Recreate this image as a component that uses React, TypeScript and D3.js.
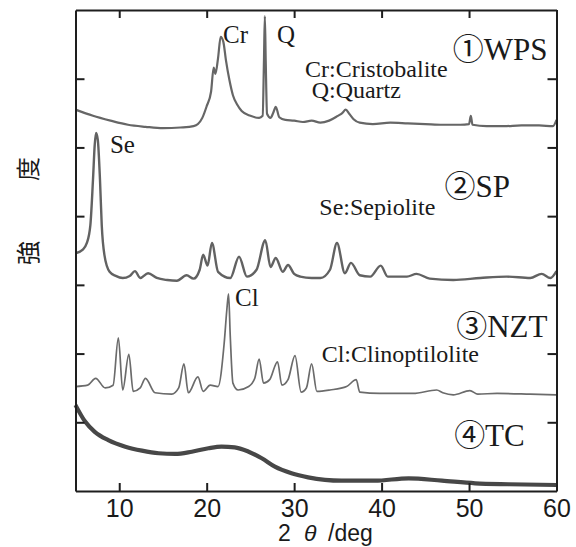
import React, { useEffect, useRef } from 'react';
import * as d3 from 'd3';

// 2θ (deg) vs intensity (a.u., stacked offsets)
const wpsData: [number, number][] = [
  [5, 5.55], [7, 5.46], [9, 5.39], [11, 5.33], [13, 5.3], [15, 5.28], [17, 5.29],
  [18.5, 5.31], [19, 5.34], [19.5, 5.43], [20, 5.6], [20.5, 5.81], [20.8, 6.16],
  [21.0, 6.07], [21.3, 6.3], [21.6, 6.61], [21.9, 6.54], [22.2, 6.27], [22.6, 5.98],
  [23.0, 5.76], [23.5, 5.62], [24, 5.53], [25, 5.46], [26, 5.43], [26.4, 5.46],
  [26.55, 6.27], [26.65, 6.91], [26.75, 6.27], [26.9, 5.49], [27.3, 5.43], [27.6, 5.5],
  [27.9, 5.59], [28.3, 5.44], [29, 5.4], [30, 5.39], [31, 5.37], [32, 5.39], [33, 5.36],
  [34, 5.39], [35, 5.46], [35.5, 5.5], [35.9, 5.55], [36.3, 5.49], [36.8, 5.41],
  [37.5, 5.36], [39, 5.34], [41, 5.36], [43, 5.35], [45, 5.34], [47, 5.33], [49, 5.33],
  [50.0, 5.34], [50.2, 5.46], [50.4, 5.33], [52, 5.31], [54, 5.31], [56, 5.32],
  [58, 5.32], [59.6, 5.31], [60, 5.4]
];

const spData: [number, number][] = [
  [5, 3.46], [5.8, 3.51], [6.3, 3.61], [6.7, 3.87], [7.0, 4.53], [7.2, 5.04], [7.35, 5.21],
  [7.55, 5.11], [7.8, 4.53], [8.0, 3.87], [8.3, 3.44], [8.9, 3.19], [9.6, 3.13],
  [10.4, 3.1], [11.2, 3.13], [11.8, 3.2], [12.4, 3.1], [13.3, 3.17], [14.3, 3.1],
  [15.5, 3.07], [16.6, 3.06], [17.7, 3.14], [18.5, 3.09], [19.2, 3.22], [19.6, 3.44],
  [20.1, 3.28], [20.6, 3.61], [21.3, 3.19], [22.7, 3.1], [23.7, 3.41], [24.6, 3.12],
  [25.7, 3.22], [26.7, 3.65], [27.3, 3.26], [27.9, 3.39], [28.7, 3.19], [29.3, 3.29],
  [30.0, 3.16], [30.7, 3.12], [32, 3.1], [33, 3.1], [34.1, 3.22], [34.9, 3.61],
  [35.8, 3.17], [36.5, 3.32], [37.5, 3.14], [38.7, 3.12], [39.9, 3.28], [40.7, 3.12],
  [42.9, 3.12], [44.0, 3.16], [45.5, 3.09], [48.2, 3.07], [51.3, 3.1], [54.3, 3.12],
  [57.0, 3.1], [58.3, 3.16], [59.3, 3.1], [60, 3.2]
];

const nztData: [number, number][] = [
  [5, 1.52], [6.4, 1.54], [7.3, 1.64], [8.4, 1.5], [9.3, 1.54], [9.9, 2.23], [10.4, 1.47],
  [11.1, 1.99], [11.6, 1.45], [12.4, 1.5], [13.0, 1.64], [14.1, 1.43], [16.0, 1.41],
  [16.8, 1.5], [17.4, 1.85], [17.9, 1.43], [19.0, 1.66], [19.6, 1.45], [20.4, 1.54],
  [21.3, 1.52], [22.0, 2.15], [22.3, 2.63], [22.5, 2.87], [22.7, 2.24], [23.0, 1.57],
  [23.6, 1.47], [24.8, 1.52], [25.5, 1.64], [26.0, 1.92], [26.5, 1.57], [27.2, 1.62],
  [28.1, 1.88], [28.6, 1.54], [29.3, 1.62], [30.1, 1.97], [30.8, 1.44], [31.4, 1.5],
  [32.0, 1.85], [32.6, 1.45], [34.1, 1.47], [36.0, 1.52], [37.1, 1.62], [37.5, 1.44],
  [39.8, 1.42], [43.6, 1.42], [46.3, 1.47], [47.0, 1.43], [48.2, 1.4], [50.1, 1.46],
  [51, 1.41], [53.2, 1.42], [57.0, 1.41], [60, 1.4]
];

const tcData: [number, number][] = [
  [5, 1.25], [6.1, 1.01], [7.2, 0.86], [8.75, 0.74], [10.7, 0.645], [12.6, 0.587],
  [14.5, 0.549], [16.4, 0.539], [18.3, 0.572], [20.2, 0.622], [21.7, 0.645], [23.2, 0.636],
  [24.8, 0.572], [26.3, 0.476], [27.8, 0.354], [29.7, 0.258], [31.6, 0.199], [35.4, 0.15],
  [39.2, 0.15], [43.1, 0.185], [46.9, 0.15], [50.7, 0.112], [54.5, 0.098], [60, 0.087]
];

const xTicks = [10, 20, 30, 40, 50, 60];
const yTicks = [1, 2, 3, 4, 5, 6];

// peak letters and sample names (x in deg, y in intensity units, text start / baseline)
const peakLabels = [
  { text: 'Cr', x: 21.87, y: 6.52 },
  { text: 'Q', x: 28.04, y: 6.52 },
  { text: 'Se', x: 8.94, y: 4.92 },
  { text: 'Cl', x: 23.24, y: 2.69 }
];
const legendLabels = [
  { text: 'Cr:Cristobalite', x: 31.24, y: 6.03 },
  { text: 'Q:Quartz', x: 32.0, y: 5.72 },
  { text: 'Se:Sepiolite', x: 32.88, y: 4.02 },
  { text: 'Cl:Clinoptilolite', x: 33.15, y: 1.88 }
];
const sampleNames = [
  { text: '①WPS', x: 60, y: 6.27 },
  { text: '②SP', x: 55.7, y: 4.28 },
  { text: '③NZT', x: 60, y: 2.24 },
  { text: '④TC', x: 57.4, y: 0.66 }
];

const App = () => {
  const ref = useRef<SVGSVGElement>(null);

  useEffect(() => {
    const left = 75.5;
    const right = 556.5;
    const top = 10;
    const bottom = 491;

    const svg = d3.select(ref.current);
    svg.selectAll('*').remove();

    const x = d3.scaleLinear().domain([5, 60]).range([left, right]);
    const y = d3.scaleLinear().domain([0, 7]).range([bottom, top]);

    const line = d3
      .line<[number, number]>()
      .x(d => x(d[0]))
      .y(d => y(d[1]))
      .curve(d3.curveMonotoneX);

    const traces = [
      { data: tcData, color: '#474747', w: 4.2 },
      { data: nztData, color: '#6b6b6b', w: 1.7 },
      { data: spData, color: '#626262', w: 2.4 },
      { data: wpsData, color: '#666666', w: 2.2 }
    ];

    svg
      .append('g')
      .selectAll('path')
      .data(traces)
      .enter()
      .append('path')
      .attr('d', t => line(t.data))
      .attr('fill', 'none')
      .attr('stroke', t => t.color)
      .attr('stroke-width', t => t.w)
      .attr('stroke-linejoin', 'round');

    const axisColor = '#1e1e1e';
    const styleAxis = (g: any) => {
      g.select('.domain').attr('stroke', axisColor).attr('stroke-width', 2);
      g.selectAll('.tick line').attr('stroke', axisColor).attr('stroke-width', 2);
    };

    svg
      .append('g')
      .attr('transform', `translate(0, ${bottom})`)
      .call(
        d3
          .axisBottom(x)
          .tickValues(xTicks)
          .tickSizeInner(-8)
          .tickSizeOuter(0)
          .tickPadding(8)
          .tickFormat(d3.format('d'))
      )
      .call(styleAxis)
      .call(g =>
        g
          .selectAll('.tick text')
          .attr('fill', '#1a1a1a')
          .style('font-family', "'Liberation Sans', Arial, sans-serif")
          .style('font-size', '25px')
      );

    svg
      .append('g')
      .attr('transform', `translate(0, ${top})`)
      .call(d3.axisTop(x).tickValues(xTicks).tickSizeInner(-8).tickSizeOuter(0).tickFormat(() => ''))
      .call(styleAxis);

    svg
      .append('g')
      .attr('transform', `translate(${left}, 0)`)
      .call(d3.axisLeft(y).tickValues(yTicks).tickSizeInner(-9).tickSizeOuter(0).tickFormat(() => ''))
      .call(styleAxis);

    svg
      .append('g')
      .attr('transform', `translate(${right}, 0)`)
      .call(d3.axisRight(y).tickValues(yTicks).tickSizeInner(-9).tickSizeOuter(0).tickFormat(() => ''))
      .call(styleAxis);

    const serif = "'Liberation Serif', 'Times New Roman', 'Noto Sans CJK JP', serif";

    svg
      .append('g')
      .selectAll('text')
      .data(peakLabels)
      .enter()
      .append('text')
      .attr('x', d => x(d.x))
      .attr('y', d => y(d.y))
      .attr('fill', '#1a1a1a')
      .style('font-family', serif)
      .style('font-size', '25px')
      .text(d => d.text);

    svg
      .append('g')
      .selectAll('text')
      .data(legendLabels)
      .enter()
      .append('text')
      .attr('x', d => x(d.x))
      .attr('y', d => y(d.y))
      .attr('fill', '#1a1a1a')
      .style('font-family', serif)
      .style('font-size', '24px')
      .text(d => d.text);

    svg
      .append('g')
      .selectAll('text')
      .data(sampleNames)
      .enter()
      .append('text')
      .attr('x', d => x(d.x) - 9)
      .attr('y', d => y(d.y))
      .attr('text-anchor', 'end')
      .attr('fill', '#1a1a1a')
      .style('font-family', serif)
      .style('font-size', '31px')
      .text(d => d.text);

    // x axis title
    const xt = svg
      .append('text')
      .attr('y', 541)
      .attr('fill', '#1a1a1a')
      .style('font-family', "'Liberation Sans', Arial, sans-serif")
      .style('font-size', '23px');
    xt.append('tspan').attr('x', 278).text('2');
    xt.append('tspan').attr('x', 304).style('font-style', 'italic').text('θ');
    xt.append('tspan').attr('x', 328).text('/deg');

    // y axis title
    svg
      .append('text')
      .attr('transform', 'translate(37, 211) rotate(-90)')
      .attr('text-anchor', 'middle')
      .attr('fill', '#1a1a1a')
      .attr('textLength', 108)
      .attr('lengthAdjust', 'spacing')
      .style('font-family', "'Noto Sans CJK JP', sans-serif")
      .style('font-size', '24px')
      .text('強 度');
  }, []);

  return (
    <svg
      ref={ref}
      width={576}
      height={547}
      style={{ position: 'absolute', left: 0, top: 0, background: '#fff' }}
    />
  );
};

export default App;
